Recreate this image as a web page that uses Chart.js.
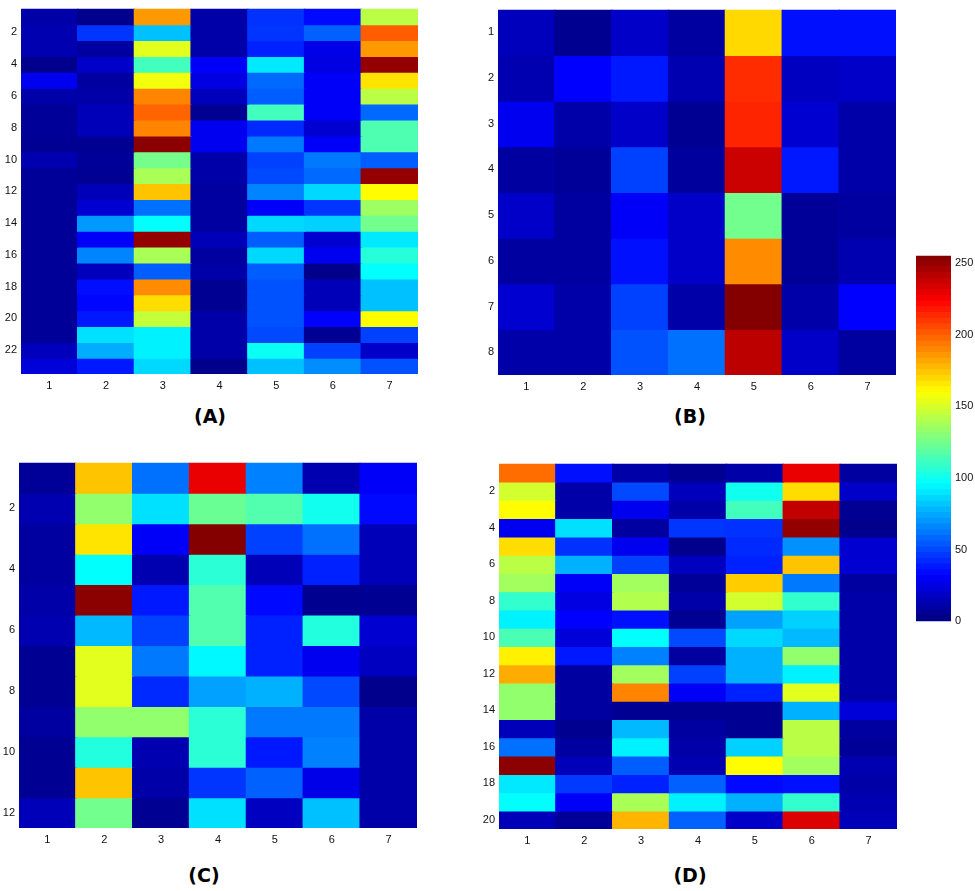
<!DOCTYPE html>
<html>
<head>
<meta charset="utf-8">
<script src="https://cdn.jsdelivr.net/npm/chart.js@4.4.1/dist/chart.umd.min.js"></script>
<style>
  html, body { margin: 0; padding: 0; background: #fff; }
  body { width: 975px; height: 891px; position: relative; overflow: hidden; }
  canvas { position: absolute; }
  .lbl { position: absolute; font-family: "DejaVu Sans", sans-serif; font-weight: bold; font-size: 19px; color: #000; transform: translate(-50%, -50%); white-space: nowrap; }
</style>
</head>
<body>
<canvas id="cA"></canvas>
<canvas id="cB"></canvas>
<canvas id="cC"></canvas>
<canvas id="cD"></canvas>
<canvas id="cBar"></canvas>
<div class="lbl" style="left:210px;top:416px;">(A)</div>
<div class="lbl" style="left:690px;top:416px;">(B)</div>
<div class="lbl" style="left:204px;top:875px;">(C)</div>
<div class="lbl" style="left:690px;top:875px;">(D)</div>
<script>
const columnLabels = ['1', '2', '3', '4', '5', '6', '7'];
const rowTicksA = [2, 4, 6, 8, 10, 12, 14, 16, 18, 20, 22];
const rowTicksB = [1, 2, 3, 4, 5, 6, 7, 8];
const rowTicksC = [2, 4, 6, 8, 10, 12];
const rowTicksD = [2, 4, 6, 8, 10, 12, 14, 16, 18, 20];
const colorbarTicks = [0, 50, 100, 150, 200, 250];
const colorMin = 0;
const colorMax = 255;

const panelA = [
  [10, 3, 185, 10, 44, 34, 142],
  [12, 45, 80, 10, 45, 56, 200],
  [12, 8, 152, 10, 40, 26, 185],
  [3, 18, 112, 30, 90, 25, 250],
  [28, 8, 156, 25, 58, 30, 166],
  [10, 10, 190, 15, 55, 30, 142],
  [6, 14, 198, 5, 112, 30, 58],
  [6, 14, 190, 28, 42, 20, 115],
  [5, 5, 252, 28, 62, 30, 115],
  [12, 6, 125, 10, 48, 62, 55],
  [6, 5, 138, 10, 50, 58, 250],
  [6, 14, 174, 8, 65, 86, 160],
  [6, 20, 60, 8, 30, 45, 135],
  [6, 70, 96, 8, 86, 84, 124],
  [6, 30, 250, 14, 55, 20, 90],
  [6, 65, 138, 8, 86, 28, 105],
  [6, 15, 55, 10, 55, 3, 96],
  [6, 35, 188, 5, 52, 14, 80],
  [6, 33, 168, 5, 52, 14, 80],
  [6, 38, 145, 10, 52, 32, 160],
  [6, 88, 92, 10, 50, 5, 48],
  [15, 75, 92, 10, 98, 48, 18],
  [22, 38, 86, 3, 80, 67, 52]
];

const panelB = [
  [15, 4, 18, 8, 169, 36, 36],
  [12, 32, 38, 12, 212, 16, 18],
  [28, 10, 18, 5, 214, 20, 10],
  [8, 6, 48, 7, 236, 38, 10],
  [18, 8, 30, 18, 124, 6, 8],
  [8, 8, 36, 18, 188, 6, 12],
  [20, 10, 48, 10, 254, 10, 32],
  [10, 10, 52, 60, 240, 18, 8]
];

const panelC = [
  [6, 174, 60, 228, 64, 12, 30],
  [12, 132, 88, 122, 116, 100, 34],
  [8, 166, 30, 254, 48, 60, 14],
  [8, 96, 12, 106, 14, 40, 14],
  [10, 252, 38, 116, 34, 4, 5],
  [12, 78, 48, 116, 40, 104, 20],
  [5, 152, 62, 94, 40, 28, 16],
  [5, 152, 42, 72, 76, 50, 3],
  [8, 132, 132, 106, 62, 62, 10],
  [5, 104, 12, 106, 38, 64, 10],
  [5, 174, 10, 45, 56, 26, 10],
  [14, 124, 5, 88, 16, 80, 10]
];

const panelD = [
  [196, 36, 10, 5, 10, 228, 8],
  [148, 10, 50, 15, 100, 168, 18],
  [160, 10, 28, 10, 112, 238, 5],
  [28, 88, 8, 45, 44, 250, 3],
  [168, 44, 28, 3, 42, 68, 20],
  [142, 76, 48, 16, 40, 174, 20],
  [136, 30, 136, 6, 172, 62, 8],
  [108, 24, 140, 10, 148, 108, 10],
  [92, 32, 36, 5, 72, 84, 10],
  [114, 22, 96, 50, 86, 78, 10],
  [163, 38, 64, 8, 76, 132, 10],
  [180, 8, 136, 48, 76, 92, 10],
  [132, 8, 190, 30, 40, 152, 10],
  [132, 8, 5, 5, 5, 76, 22],
  [14, 4, 78, 8, 5, 142, 8],
  [60, 8, 92, 10, 84, 142, 6],
  [252, 14, 55, 12, 160, 136, 12],
  [90, 46, 40, 56, 34, 36, 10],
  [96, 30, 138, 92, 76, 108, 12],
  [14, 6, 178, 56, 18, 232, 14]
];

function clamp01(x) { return Math.max(0, Math.min(1, x)); }
function jet(v) {
  const t = (v - colorMin) / (colorMax - colorMin);
  const r = clamp01(Math.min(4 * t - 1.5, -4 * t + 4.5));
  const g = clamp01(Math.min(4 * t - 0.5, -4 * t + 3.5));
  const b = clamp01(Math.min(4 * t + 0.5, -4 * t + 2.5));
  return 'rgb(' + Math.round(r * 255) + ',' + Math.round(g * 255) + ',' + Math.round(b * 255) + ')';
}

const TICK_FONT = { family: '"Liberation Sans", Arial, sans-serif', size: 11 };
const YW = 30, XH = 30, PT = 10, PR = 10;

// clip drawing to the chart area so inflated cells do not spill out
const clipPlugin = {
  id: 'clipArea',
  beforeDatasetsDraw(chart) {
    const a = chart.chartArea;
    chart.ctx.save();
    chart.ctx.beginPath();
    chart.ctx.rect(a.left, a.top, a.right - a.left, a.bottom - a.top);
    chart.ctx.clip();
  },
  afterDatasetsDraw(chart) { chart.ctx.restore(); }
};

function makeHeatmap(id, matrix, rowTicks, rect) {
  const cv = document.getElementById(id);
  const w = rect.right - rect.left, h = rect.bottom - rect.top;
  cv.width = w + YW + PR; cv.height = h + XH + PT;
  cv.style.left = (rect.left - YW) + 'px';
  cv.style.top = (rect.top - PT) + 'px';
  cv.style.width = cv.width + 'px'; cv.style.height = cv.height + 'px';
  const n = matrix.length;
  const datasets = matrix.map((row, i) => ({
    data: row.map(() => [i + 0.5, i + 1.5]),
    backgroundColor: row.map(v => jet(v)),
    borderWidth: 0,
    inflateAmount: 0.7,
    barPercentage: 1,
    categoryPercentage: 1,
    grouped: false
  }));
  new Chart(cv, {
    type: 'bar',
    data: { labels: columnLabels, datasets },
    plugins: [clipPlugin],
    options: {
      responsive: false,
      animation: false,
      events: [],
      layout: { padding: { top: PT, right: PR, left: 0, bottom: 0 } },
      plugins: { legend: { display: false }, tooltip: { enabled: false } },
      scales: {
        x: {
          type: 'category',
          grid: { display: false, drawTicks: false },
          border: { display: false },
          ticks: { font: TICK_FONT, color: '#111', padding: 5, maxRotation: 0 },
          afterFit: s => { s.height = XH; }
        },
        y: {
          type: 'linear',
          min: 0.5, max: n + 0.5,
          reverse: true,
          grid: { display: false, drawTicks: false },
          border: { display: false },
          afterBuildTicks: s => { s.ticks = rowTicks.map(v => ({ value: v })); },
          ticks: { font: TICK_FONT, color: '#111', padding: 4, callback: v => String(v) },
          afterFit: s => { s.width = YW; }
        }
      }
    }
  });
}

makeHeatmap('cA', panelA, rowTicksA, { left: 21, top: 8, right: 418, bottom: 374 });
makeHeatmap('cB', panelB, rowTicksB, { left: 498, top: 9, right: 896, bottom: 375 });
makeHeatmap('cC', panelC, rowTicksC, { left: 19, top: 462, right: 417, bottom: 828 });
makeHeatmap('cD', panelD, rowTicksD, { left: 499, top: 463, right: 897, bottom: 829 });

// Colorbar
(function () {
  const rect = { left: 916, top: 255, right: 951, bottom: 622 };
  const cv = document.getElementById('cBar');
  const RW = 30, PL = 10;
  const w = rect.right - rect.left, h = rect.bottom - rect.top;
  cv.width = w + RW + PL; cv.height = h + 2 * PT;
  cv.style.left = (rect.left - PL) + 'px';
  cv.style.top = (rect.top - PT) + 'px';
  cv.style.width = cv.width + 'px'; cv.style.height = cv.height + 'px';
  const levels = 64;
  const step = (colorMax - colorMin) / levels;
  const datasets = [];
  for (let k = 0; k < levels; k++) {
    const lo = colorMin + k * step, hi = lo + step;
    datasets.push({
      data: [[lo, hi]],
      backgroundColor: jet((lo + hi) / 2),
      borderWidth: 0,
      inflateAmount: 0.7,
      barPercentage: 1,
      categoryPercentage: 1,
      grouped: false
    });
  }
  new Chart(cv, {
    type: 'bar',
    data: { labels: [''], datasets },
    plugins: [clipPlugin],
    options: {
      responsive: false,
      animation: false,
      events: [],
      layout: { padding: { top: PT, bottom: PT, left: PL, right: 0 } },
      plugins: { legend: { display: false }, tooltip: { enabled: false } },
      scales: {
        x: { display: false },
        y: {
          position: 'right',
          type: 'linear',
          min: colorMin, max: colorMax,
          grid: { display: false, drawTicks: false },
          border: { display: false },
          afterBuildTicks: s => { s.ticks = colorbarTicks.map(v => ({ value: v })); },
          ticks: { font: TICK_FONT, color: '#111', padding: 4 },
          afterFit: s => { s.width = RW; }
        }
      }
    }
  });
})();
</script>
</body>
</html>
